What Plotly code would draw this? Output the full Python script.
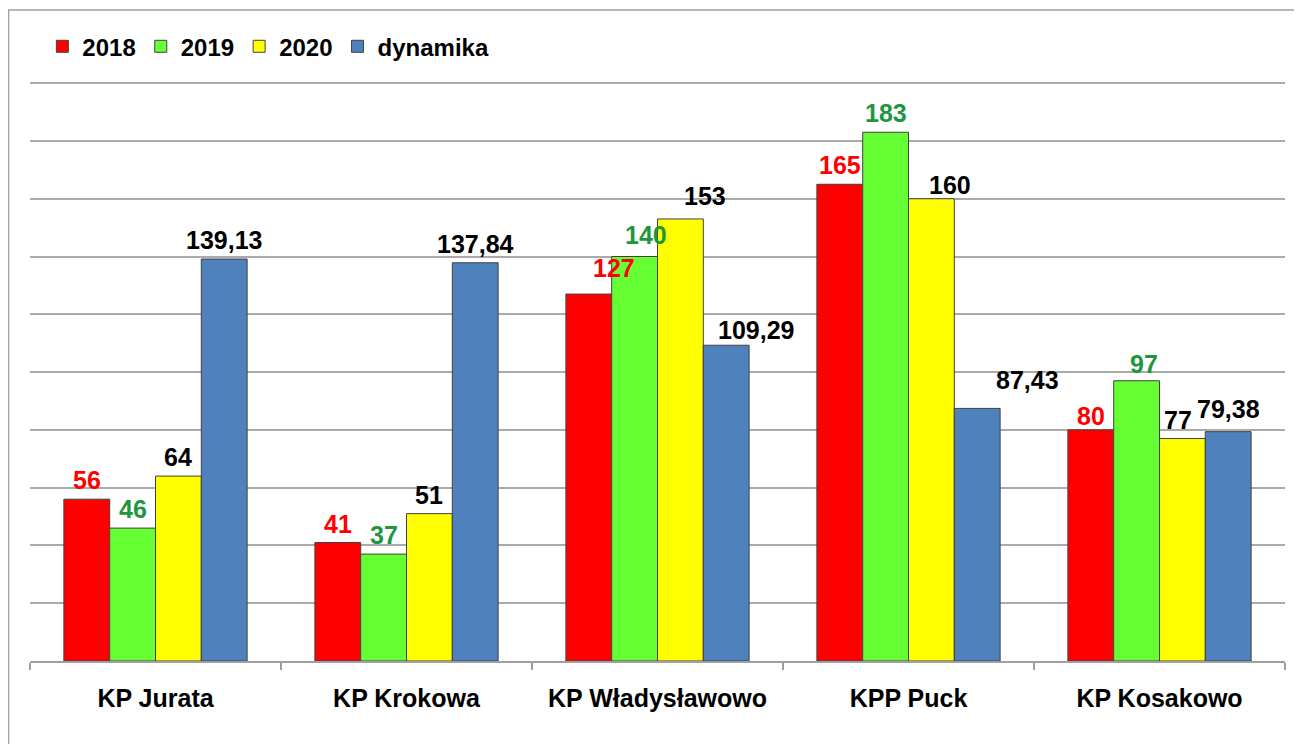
import plotly.graph_objects as go

categories = ["KP Jurata", "KP Krokowa", "KP Władysławowo", "KPP Puck", "KP Kosakowo"]
series_names = ["2018", "2019", "2020", "dynamika"]
v2018 = [56, 41, 127, 165, 80]
v2019 = [46, 37, 140, 183, 97]
v2020 = [64, 51, 153, 160, 77]
dynamika = [139.13, 137.84, 109.29, 87.43, 79.38]

series_values = [v2018, v2019, v2020, dynamika]
bar_colors = ["#FF0000", "#66FF33", "#FFFF00", "#4F81BD"]
label_colors = ["#FF0000", "#1E963E", "#000000", "#000000"]

# manual label nudges (px) as in the original (label overlap handling)
label_nudges = {
    (0, 2): (25, 7), (1, 2): (11, 3), (2, 2): (25, 4), (3, 2): (30, -4),
    (2, 3): (19, -5), (3, 3): (50, 9),
    (0, 4): (0, -5), (1, 4): (7, -2), (2, 4): (-4, 0), (3, 4): (0, 4),
}

FONT = "Arial, Liberation Sans, sans-serif"
bargap = 0.27
nser = len(series_values)
bw = (1 - bargap) / nser


def fmt(v):
    if float(v).is_integer():
        return str(int(v))
    return f"{v:.2f}".replace(".", ",")


fig = go.Figure()
for name, vals, col in zip(series_names, series_values, bar_colors):
    fig.add_trace(go.Bar(
        x=categories, y=vals, name=name,
        marker=dict(color=col, line=dict(color="#404040", width=1)),
        hoverinfo="x+y+name",
    ))

annotations = []
for j, (vals, lc) in enumerate(zip(series_values, label_colors)):
    for i, v in enumerate(vals):
        dx, dy = label_nudges.get((j, i), (0, 0))
        annotations.append(dict(
            x=i + (j - (nser - 1) / 2) * bw, y=v, xref="x", yref="y",
            text=fmt(v), showarrow=False, yanchor="bottom", xanchor="center",
            xshift=dx, yshift=3 + dy,
            font=dict(family=FONT, size=25, color=lc, weight="bold"),
        ))

fig.update_layout(
    width=1302, height=744,
    margin=dict(l=22, r=25, t=74, b=91),
    paper_bgcolor="white", plot_bgcolor="white",
    barmode="group", bargap=bargap, bargroupgap=0,
    showlegend=True,
    legend=dict(
        orientation="h", xref="container", yref="container",
        x=0.0264, y=0.948, xanchor="left", yanchor="middle",
        font=dict(family=FONT, size=24, color="#000000", weight="bold"),
        itemclick=False, traceorder="normal",
    ),
    annotations=annotations,
    shapes=[dict(
        type="rect", xref="paper", yref="paper",
        x0=-0.0171, x1=1.05, y0=-0.2, y1=1.1245,
        line=dict(color="#A0A0A0", width=1.5), fillcolor="rgba(0,0,0,0)",
        layer="above",
    )],
    xaxis=dict(
        type="category", showline=True, linecolor="#A0A0A0", linewidth=1.5,
        ticks="outside", tickson="boundaries", ticklen=7, tickcolor="#A0A0A0",
        tickwidth=1.5, showgrid=False, ticklabelstandoff=14,
        tickfont=dict(family=FONT, size=25, color="#000000", weight="bold"),
    ),
    yaxis=dict(
        range=[0, 200.4], dtick=20, showticklabels=False, showgrid=True,
        gridcolor="#AAAAAA", gridwidth=1.5, zeroline=False, showline=False,
        ticks="",
    ),
)

fig.write_html("out.html")
